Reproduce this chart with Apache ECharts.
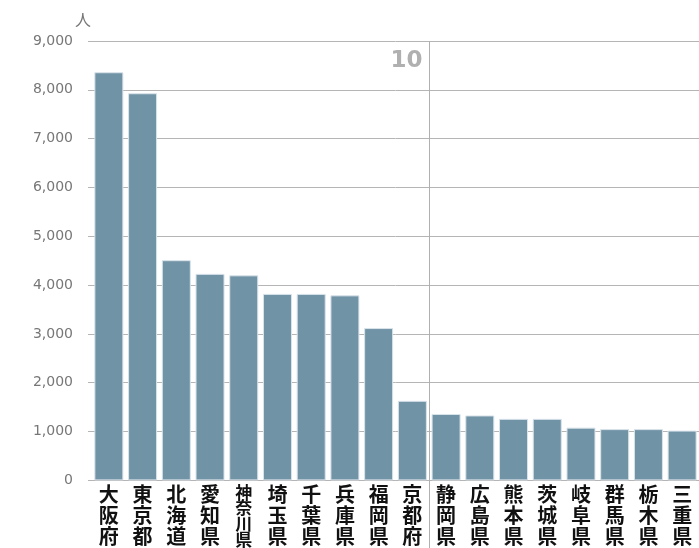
<!DOCTYPE html>
<html>
<head>
<meta charset="utf-8">
<script src="https://cdn.jsdelivr.net/npm/echarts@6/dist/echarts.min.js"></script>
<style>
html,body{margin:0;padding:0;background:#fff;}
#chart{width:699px;height:548px;}
</style>
</head>
<body>
<div id="chart"></div>
<script>
const categories = ['大阪府','東京都','北海道','愛知県','神奈川県','埼玉県','千葉県','兵庫県','福岡県','京都府','静岡県','広島県','熊本県','茨城県','岐阜県','群馬県','栃木県','三重県'];
const values = [8360, 7930, 4510, 4230, 4200, 3820, 3820, 3790, 3120, 1630, 1360, 1330, 1260, 1260, 1080, 1050, 1050, 1020];
const yTicks = [0, 1000, 2000, 3000, 4000, 5000, 6000, 7000, 8000, 9000];
const yUnit = '人';
const markerLabel = '10';
const markerAfterIndex = 9;

const chart = echarts.init(document.getElementById('chart'), null, {renderer: 'canvas'});
const option = {
  animation: false,
  backgroundColor: '#ffffff',
  title: {
    text: yUnit, left: 70, top: 7,
    textStyle: {color: '#777', fontSize: 16, fontWeight: 'normal', fontFamily: 'Noto Sans CJK JP'}
  },
  grid: {left: 92, right: 0, top: 41, bottom: 67, containLabel: false},
  xAxis: {
    type: 'category',
    data: categories,
    axisLine: {show: true, lineStyle: {color: '#b5b5b5', width: 1}},
    axisTick: {show: false},
    axisLabel: {
      interval: 0, margin: 4,
      color: '#111', fontSize: 20, lineHeight: 21, fontWeight: 'bold',
      fontFamily: 'Noto Sans CJK JP',
      formatter: function (v) {
        const chars = v.split('');
        if (chars.length > 3) return chars.map(c => '{s|' + c + '}').join('\n');
        return chars.join('\n');
      },
      rich: {s: {fontSize: 17, lineHeight: 15.75, fontWeight: 'bold', color: '#111', fontFamily: 'Noto Sans CJK JP'}}
    }
  },
  yAxis: {
    type: 'value',
    min: yTicks[0], max: yTicks[yTicks.length - 1], interval: yTicks[1] - yTicks[0],
    axisLine: {show: false},
    axisTick: {show: true, length: 4, lineStyle: {color: '#b5b5b5'}},
    splitLine: {show: true, lineStyle: {color: '#b5b5b5', width: 1}},
    axisLabel: {
      margin: 19, color: '#777', fontSize: 14, fontFamily: 'DejaVu Sans',
      formatter: v => v.toLocaleString('en-US')
    }
  },
  series: [{
    type: 'bar',
    data: values,
    barCategoryGap: '14%',
    itemStyle: {color: '#7193a6', borderColor: '#d9e3ea', borderWidth: 1}
  }]
};
chart.setOption(option);

const x1 = chart.convertToPixel({xAxisIndex: 0}, markerAfterIndex);
const x2 = chart.convertToPixel({xAxisIndex: 0}, markerAfterIndex + 1);
const lx = Math.round((x1 + x2) / 2) + 0.5;
const yTop = chart.convertToPixel({yAxisIndex: 0}, yTicks[yTicks.length - 1]);
chart.setOption({
  graphic: [
    {type: 'line', shape: {x1: lx, y1: yTop, x2: lx, y2: 548}, style: {stroke: '#b0b0b0', lineWidth: 1}, z: 100},
    {type: 'text', x: lx - 7, y: yTop + 20, style: {text: markerLabel, fill: '#b0b0b0', font: 'bold 23px "DejaVu Sans"', textAlign: 'right', textVerticalAlign: 'middle'}, z: 100}
  ]
});
</script>
</body>
</html>
